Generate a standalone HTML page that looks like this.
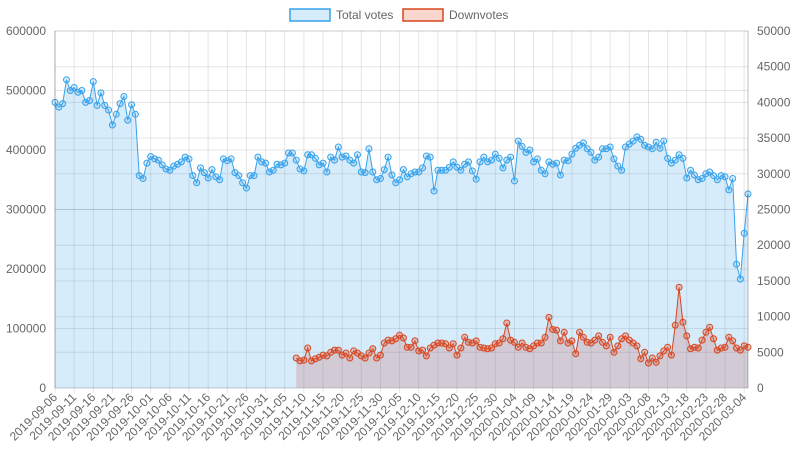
<!DOCTYPE html>
<html><head><meta charset="utf-8"><style>
body{margin:0;background:#fff;}
svg{display:block;font-family:"Liberation Sans",Arial,sans-serif;}
</style></head><body>
<svg id="chart" width="798" height="450"></svg>
<script>
const startDate = "2019-09-06";
const totalVotes = [480000,472000,478000,518000,500000,505000,497000,500000,480000,483000,
515000,475000,496000,475000,467000,442000,460000,478000,490000,450000,
476000,460000,357000,352000,378000,389000,385000,383000,375000,368000,
366000,373000,376000,380000,388000,385000,357000,345000,370000,362000,
353000,367000,355000,350000,385000,382000,385000,362000,357000,345000,
336000,357000,357000,388000,380000,378000,363000,366000,376000,375000,
378000,395000,395000,383000,368000,365000,392000,392000,386000,375000,
378000,363000,388000,383000,405000,388000,390000,383000,378000,392000,
363000,362000,402000,363000,350000,352000,367000,388000,358000,345000,
350000,367000,355000,360000,363000,363000,370000,390000,388000,331000,
366000,366000,366000,371000,380000,371000,366000,376000,380000,365000,
351000,380000,388000,380000,383000,393000,386000,370000,383000,388000,
348000,415000,406000,396000,400000,380000,385000,366000,360000,380000,
376000,378000,358000,383000,382000,393000,403000,408000,412000,402000,
396000,383000,388000,402000,402000,405000,385000,373000,366000,405000,
410000,415000,422000,418000,408000,405000,402000,413000,403000,415000,
386000,378000,383000,392000,386000,353000,366000,358000,350000,352000,
360000,363000,357000,350000,357000,355000,333000,352000,208000,183000,
260000,326000];
const downStart = 63;
const downvotes = [4200,3800,3900,5600,3800,4100,4300,4600,4500,5000,
5300,5300,4600,4900,4200,5200,4900,4500,4200,4900,
5500,4200,4600,6300,6700,6600,6900,7400,7000,5700,
5700,6600,5200,5300,4500,5600,6000,6300,6300,6200,
5600,6200,4600,5600,7100,6400,6300,6600,5700,5600,
5500,5600,6200,6300,6900,9100,6700,
6400,5700,6300,5700,5500,5900,6300,6300,7100,9900,
8200,8100,6600,7800,6300,6600,4800,7800,7100,6400,
6300,6700,7300,6400,5900,7100,5000,5900,6900,7300,
6700,6300,5900,4100,5000,3500,4200,3600,4500,5200,
5700,4600,8800,14100,9200,7300,5500,5700,5600,6700,
7800,8500,6900,5300,5600,5700,7100,6600,5600,5300,
5900,5700];
const leftTicks = [0,100000,200000,300000,400000,500000,600000];
const rightTicks = [0,5000,10000,15000,20000,25000,30000,35000,40000,45000,50000];

const X0=55, X1=748, Y0=388, Y1=31;
const n = totalVotes.length;
const xs = i => X0 + (X1-X0)*i/(n-1);
const yL = v => Y0 - (Y0-Y1)*v/600000;
const yR = v => Y0 - (Y0-Y1)*v/50000;
const NS="http://www.w3.org/2000/svg";
const svg=document.getElementById('chart');
function mk(tag,attrs,parent){const e=document.createElementNS(NS,tag);for(const k in attrs)e.setAttribute(k,attrs[k]);(parent||svg).appendChild(e);return e;}
function dateLabel(i){const d=new Date(startDate+"T00:00:00Z");d.setUTCDate(d.getUTCDate()+i);return d.toISOString().slice(0,10);}

const grid=mk('g',{});


leftTicks.forEach(t=>{mk('line',{x1:X0,x2:X1,y1:yL(t),y2:yL(t),stroke:'rgba(0,0,0,0.1)'},grid);});
rightTicks.forEach(t=>{mk('line',{x1:X0,x2:X1,y1:yR(t),y2:yR(t),stroke:'rgba(0,0,0,0.1)'},grid);});
for(let i=0;i<n;i+=5){mk('line',{x1:xs(i),x2:xs(i),y1:Y1,y2:Y0+5,stroke:'rgba(0,0,0,0.1)'},grid);}

let pts=totalVotes.map((v,i)=>xs(i)+','+yL(v));
const ta=mk('polygon',{points:X0+','+Y0+' '+pts.join(' ')+' '+X1+','+Y0,fill:'rgba(54,162,235,0.2)'});


const tl=mk('polyline',{points:pts.join(' '),fill:'none',stroke:'#36a2eb','stroke-width':1});


let dpts=downvotes.map((v,k)=>xs(k+downStart)+','+yR(v));
const dStartX=xs(downStart), dEndX=xs(downStart+downvotes.length-1);
const da=mk('polygon',{points:dStartX+','+Y0+' '+dpts.join(' ')+' '+dEndX+','+Y0,fill:'rgba(190,70,60,0.2)'});


const dl=mk('polyline',{points:dpts.join(' '),fill:'none',stroke:'#d5461f','stroke-width':1});


totalVotes.forEach((v,i)=>{
  const c=mk('circle',{cx:xs(i),cy:yL(v),r:3,fill:'rgba(54,162,235,0.2)',stroke:'#36a2eb','stroke-width':1});
  
  
});
downvotes.forEach((v,k)=>{
  const c=mk('circle',{cx:xs(k+downStart),cy:yR(v),r:3,fill:'rgba(230,90,60,0.3)',stroke:'#d5461f','stroke-width':1});
  
  
});

const la=mk('line',{x1:X0,x2:X0,y1:Y1,y2:Y0,stroke:'rgba(0,0,0,0.25)'});


const ra=mk('line',{x1:X1,x2:X1,y1:Y1,y2:Y0,stroke:'rgba(0,0,0,0.25)'});


leftTicks.forEach(t=>{
  const e=mk('text',{x:46,y:yL(t)+4,'text-anchor':'end','font-size':12,fill:'#666'});
  e.textContent=String(t);
  
  
});
rightTicks.forEach(t=>{
  const e=mk('text',{x:757,y:yR(t)+4,'text-anchor':'start','font-size':12,fill:'#666'});
  e.textContent=String(t);
  
  
});
for(let i=0;i<n;i+=5){
  const x=xs(i)+3, y=Y0+10;
  const e=mk('text',{x:x,y:y,'text-anchor':'end','font-size':12,fill:'#666',transform:'rotate(-45 '+x+' '+y+')'});
  e.textContent=dateLabel(i);
  
  
}
const lg=mk('g',{});


const b1=mk('rect',{x:290,y:9,width:40,height:12,fill:'rgba(54,162,235,0.2)',stroke:'#36a2eb','stroke-width':1.5},lg);


const t1=mk('text',{x:336,y:19,'font-size':12,fill:'#666'},lg);t1.textContent='Total votes';


const b2=mk('rect',{x:403,y:9,width:40,height:12,fill:'rgba(230,90,60,0.25)',stroke:'#d5461f','stroke-width':1.5},lg);


const t2=mk('text',{x:449,y:19,'font-size':12,fill:'#666'},lg);t2.textContent='Downvotes';


</script>
</body></html>
